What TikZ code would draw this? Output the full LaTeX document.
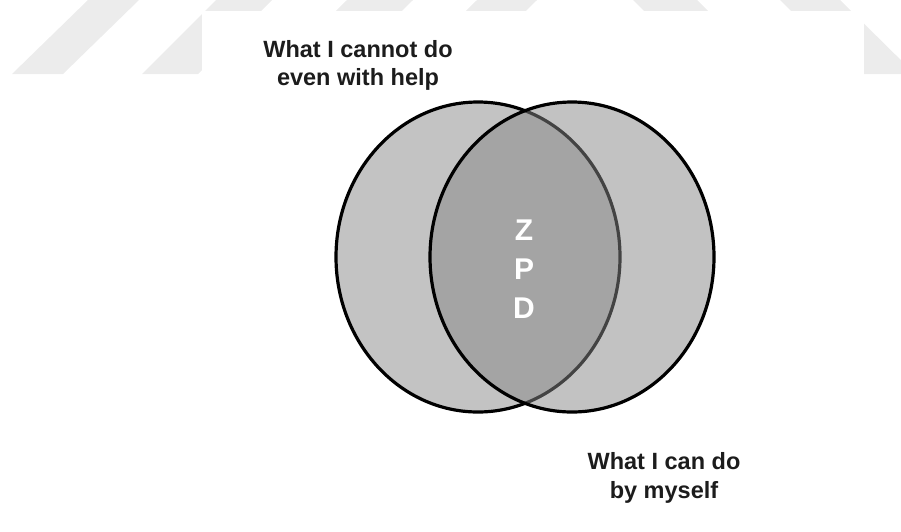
\documentclass[tikz,border=0pt]{standalone}
\usepackage{fontspec}
\setmainfont{Liberation Sans}
\usetikzlibrary{shapes.geometric}
\definecolor{wm}{RGB}{236,236,236}
\definecolor{outer}{RGB}{195,195,195}
\definecolor{tint}{RGB}{135,135,135}
\definecolor{ink}{RGB}{28,28,28}
\begin{document}
\begin{tikzpicture}[x=1pt,y=-1pt,
  venn/.style={shape=ellipse, draw=black, line width=3.2pt, minimum width=284pt, minimum height=310pt, inner sep=0pt},
  label/.style={anchor=base, inner sep=0pt, text=ink, font=\bfseries\fontsize{23.5}{28}\selectfont},
  zpd/.style={anchor=base, inner sep=0pt, text=white, font=\bfseries\fontsize{30}{36}\selectfont}]
\useasboundingbox (0,0) rectangle (901,531);
% watermark stripes
\fill[wm] (12,74) -- (63,74) -- (139,0) -- (88,0) -- cycle;
\fill[wm] (142,74) -- (198,74) -- (272,0) -- (216,0) -- cycle;
\fill[wm] (272,74) -- (338,74) -- (413,0) -- (347,0) -- cycle;
\fill[wm] (402,74) -- (462,74) -- (537,0) -- (477,0) -- cycle;
\fill[wm] (633,0) -- (697,0) -- (772,74) -- (708,74) -- cycle;
\fill[wm] (780,0) -- (840,0) -- (915,74) -- (855,74) -- cycle;
% white panel
\fill[white] (202,11) rectangle (864,531);
% circles
\node[venn, fill=outer] (cannot) at (478,257) {};
\node[venn, fill=tint, fill opacity=0.5] (can) at (572,257) {};
% ZPD
\node[zpd] (z) at (524,240) {Z};
\node[zpd] (p) at (524,279) {P};
\node[zpd] (d) at (524,318) {D};
% labels
\node[label] (top1) at (358,57) {What I cannot do};
\node[label] (top2) at (358,85) {even with help};
\node[label] (bot1) at (664,469) {What I can do};
\node[label] (bot2) at (664,498) {by myself};
\end{tikzpicture}
\end{document}
